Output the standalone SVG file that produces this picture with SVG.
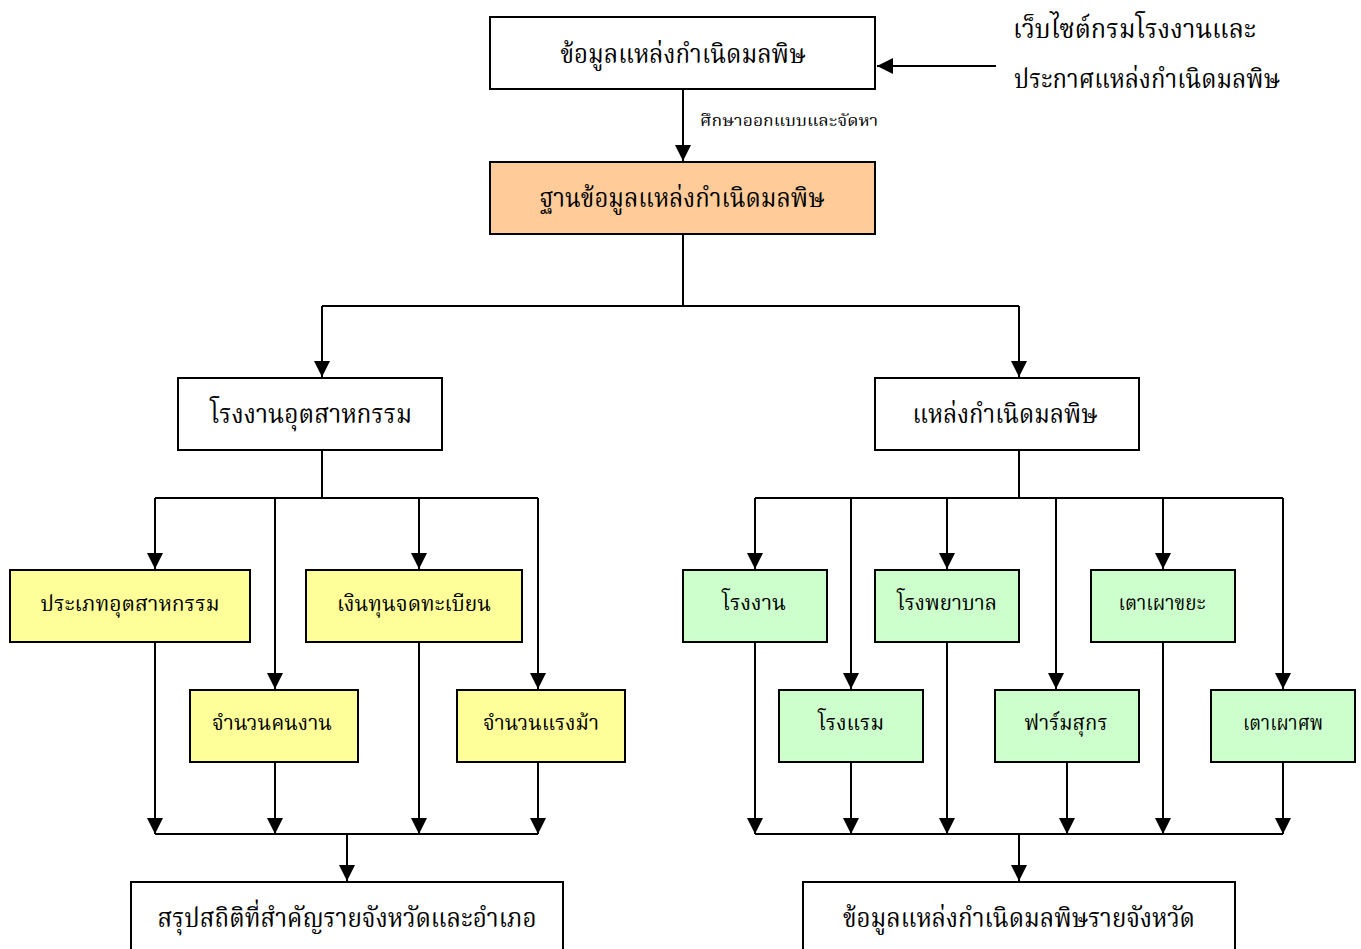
<svg xmlns="http://www.w3.org/2000/svg" width="1361" height="949" viewBox="0 0 1361 949">
<style>
.b{stroke:#000;stroke-width:2}
.w{fill:#fff}.o{fill:#FFCC99}.y{fill:#FFFF99}.g{fill:#CCFFCC}
text{font-family:"Liberation Serif","Noto Serif Thai","Noto Sans Thai","Loma","Garuda",serif;fill:#000}
.t1{font-size:26px;text-anchor:middle}
.t2{font-size:22px;text-anchor:middle}
.t3{font-size:26px}
.t4{font-size:16px}
.c{fill:none;stroke:#000;stroke-width:2}
</style>
<defs>
<marker id="ar" markerUnits="userSpaceOnUse" markerWidth="16" markerHeight="16" viewBox="0 0 14 14" refX="14" refY="7" orient="auto">
<path d="M0,0 L14,7 L0,14 z" fill="#000"/>
</marker>
</defs>
<rect width="1361" height="949" fill="#fff"/>
<g id="connectors">
<path class="c" d="M996,66 H877" marker-end="url(#ar)"/>
<path class="c" d="M683,89 V161" marker-end="url(#ar)"/>
<path class="c" d="M683,234 V306 M322,306 H1019"/>
<path class="c" d="M322,306 V377" marker-end="url(#ar)"/>
<path class="c" d="M1019,306 V377" marker-end="url(#ar)"/>
<path class="c" d="M322,450 V498 M155,498 H538"/>
<path class="c" d="M155,498 V569" marker-end="url(#ar)"/>
<path class="c" d="M275,498 V689" marker-end="url(#ar)"/>
<path class="c" d="M419,498 V569" marker-end="url(#ar)"/>
<path class="c" d="M538,498 V689" marker-end="url(#ar)"/>
<path class="c" d="M155,642 V834" marker-end="url(#ar)"/>
<path class="c" d="M275,762 V834" marker-end="url(#ar)"/>
<path class="c" d="M419,642 V834" marker-end="url(#ar)"/>
<path class="c" d="M538,762 V834" marker-end="url(#ar)"/>
<path class="c" d="M155,834 H538"/>
<path class="c" d="M347,834 V881" marker-end="url(#ar)"/>
<path class="c" d="M1019,450 V498 M755,498 H1283"/>
<path class="c" d="M755,498 V569" marker-end="url(#ar)"/>
<path class="c" d="M851,498 V689" marker-end="url(#ar)"/>
<path class="c" d="M947,498 V569" marker-end="url(#ar)"/>
<path class="c" d="M1056,498 V689" marker-end="url(#ar)"/>
<path class="c" d="M1163,498 V569" marker-end="url(#ar)"/>
<path class="c" d="M1283,498 V689" marker-end="url(#ar)"/>
<path class="c" d="M755,642 V834" marker-end="url(#ar)"/>
<path class="c" d="M851,762 V834" marker-end="url(#ar)"/>
<path class="c" d="M947,642 V834" marker-end="url(#ar)"/>
<path class="c" d="M1067,762 V834" marker-end="url(#ar)"/>
<path class="c" d="M1163,642 V834" marker-end="url(#ar)"/>
<path class="c" d="M1283,762 V834" marker-end="url(#ar)"/>
<path class="c" d="M755,834 H1283"/>
<path class="c" d="M1019,834 V881" marker-end="url(#ar)"/>
<text class="t4" x="700" y="126" textLength="178" lengthAdjust="spacingAndGlyphs">ศึกษาออกแบบและจัดหา</text>
</g>
<g id="source-note">
<text class="t3" x="1013" y="38" textLength="243" lengthAdjust="spacingAndGlyphs">เว็บไซต์กรมโรงงานและ</text>
<text class="t3" x="1014" y="88" textLength="266" lengthAdjust="spacingAndGlyphs">ประกาศแหล่งกำเนิดมลพิษ</text>
</g>
<g id="n-top"><rect class="b w" x="490" y="17" width="385" height="72"/><text class="t1" x="683" y="63" textLength="245" lengthAdjust="spacingAndGlyphs">ข้อมูลแหล่งกำเนิดมลพิษ</text></g>
<g id="n-db"><rect class="b o" x="490" y="162" width="385" height="72"/><text class="t1" x="682" y="207" textLength="285" lengthAdjust="spacingAndGlyphs">ฐานข้อมูลแหล่งกำเนิดมลพิษ</text></g>
<g id="n-factory"><rect class="b w" x="178" y="378" width="264" height="72"/><text class="t1" x="311" y="423" textLength="202" lengthAdjust="spacingAndGlyphs">โรงงานอุตสาหกรรม</text></g>
<g id="n-source"><rect class="b w" x="875" y="378" width="264" height="72"/><text class="t1" x="1005" y="423" textLength="185" lengthAdjust="spacingAndGlyphs">แหล่งกำเนิดมลพิษ</text></g>
<g id="n-type"><rect class="b y" x="10" y="570" width="240" height="72"/><text class="t2" x="130" y="611" textLength="179" lengthAdjust="spacingAndGlyphs">ประเภทอุตสาหกรรม</text></g>
<g id="n-capital"><rect class="b y" x="306" y="570" width="216" height="72"/><text class="t2" x="414" y="611" textLength="154" lengthAdjust="spacingAndGlyphs">เงินทุนจดทะเบียน</text></g>
<g id="n-workers"><rect class="b y" x="190" y="690" width="168" height="72"/><text class="t2" x="272" y="730" textLength="120" lengthAdjust="spacingAndGlyphs">จำนวนคนงาน</text></g>
<g id="n-hp"><rect class="b y" x="457" y="690" width="168" height="72"/><text class="t2" x="541" y="730" textLength="116" lengthAdjust="spacingAndGlyphs">จำนวนแรงม้า</text></g>
<g id="n-plant"><rect class="b g" x="683" y="570" width="144" height="72"/><text class="t2" x="754" y="610" textLength="64" lengthAdjust="spacingAndGlyphs">โรงงาน</text></g>
<g id="n-hospital"><rect class="b g" x="875" y="570" width="144" height="72"/><text class="t2" x="947" y="610" textLength="100" lengthAdjust="spacingAndGlyphs">โรงพยาบาล</text></g>
<g id="n-incinerator"><rect class="b g" x="1091" y="570" width="144" height="72"/><text class="t2" x="1162" y="610" textLength="87" lengthAdjust="spacingAndGlyphs">เตาเผาขยะ</text></g>
<g id="n-hotel"><rect class="b g" x="779" y="690" width="144" height="72"/><text class="t2" x="851" y="730" textLength="66" lengthAdjust="spacingAndGlyphs">โรงแรม</text></g>
<g id="n-pigfarm"><rect class="b g" x="995" y="690" width="144" height="72"/><text class="t2" x="1066" y="730" textLength="83" lengthAdjust="spacingAndGlyphs">ฟาร์มสุกร</text></g>
<g id="n-crematory"><rect class="b g" x="1211" y="690" width="144" height="72"/><text class="t2" x="1283" y="730" textLength="80" lengthAdjust="spacingAndGlyphs">เตาเผาศพ</text></g>
<g id="n-summary"><rect class="b w" x="131" y="882" width="432" height="72"/><text class="t1" x="347" y="927" textLength="379" lengthAdjust="spacingAndGlyphs">สรุปสถิติที่สำคัญรายจังหวัดและอำเภอ</text></g>
<g id="n-province"><rect class="b w" x="803" y="882" width="432" height="72"/><text class="t1" x="1019" y="927" textLength="352" lengthAdjust="spacingAndGlyphs">ข้อมูลแหล่งกำเนิดมลพิษรายจังหวัด</text></g>
</svg>
